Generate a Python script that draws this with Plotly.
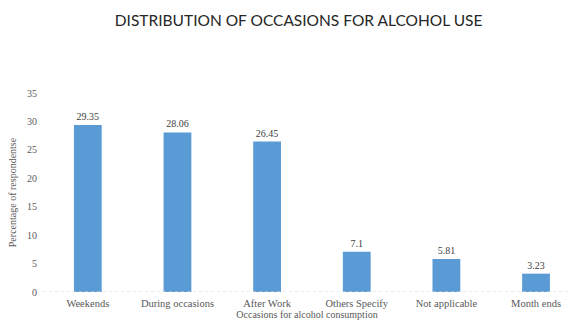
import plotly.graph_objects as go

categories = ["Weekends", "During occasions", "After Work", "Others Specify", "Not applicable", "Month ends"]
values = [29.35, 28.06, 26.45, 7.1, 5.81, 3.23]
labels = ["29.35", "28.06", "26.45", "7.1", "5.81", "3.23"]
y_ticks = [0, 5, 10, 15, 20, 25, 30, 35]

serif = "Liberation Serif, Times New Roman, serif"

fig = go.Figure(go.Bar(
    x=list(range(len(categories))), y=values,
    text=labels, textposition="outside", cliponaxis=False,
    textfont=dict(family=serif, size=10, color="#404040"),
    marker=dict(color="#5B9BD5", line=dict(width=0)),
    width=0.31,
))

fig.update_layout(
    width=571, height=322,
    margin=dict(l=43, r=0, t=93, b=30),
    paper_bgcolor="white", plot_bgcolor="white",
    showlegend=False,
    title=dict(text="DISTRIBUTION OF OCCASIONS FOR ALCOHOL USE",
               font=dict(family="Lato, Carlito, Calibri, sans-serif", size=15.5, color="#262626"),
               x=0.523, xanchor="center", y=0.935, yanchor="middle"),
    xaxis=dict(
        tickmode="array", tickvals=list(range(len(categories))), ticktext=categories,
        range=[-0.5, 5.39], showgrid=False, zeroline=False,
        showline=False, ticks="", ticklabelstandoff=3,
        tickfont=dict(family=serif, size=10.5, color="#595959"),
        title=dict(text="Occasions for alcohol consumption",
                   font=dict(family=serif, size=10, color="#595959"), standoff=3),
    ),
    yaxis=dict(
        range=[0, 35], tickvals=y_ticks, showgrid=False, zeroline=False,
        showline=False, ticks="", ticklabelstandoff=5,
        tickfont=dict(family=serif, size=10, color="#595959"),
        title=dict(text="Percentage of respondentse",
                   font=dict(family=serif, size=10, color="#595959"), standoff=8),
    ),
    shapes=[dict(type="line", xref="paper", yref="y", x0=0, x1=1, y0=0, y1=0,
                 line=dict(color="#D9D9D9", width=1, dash="dot"))],
)

fig.write_html("out.html", config={"displayModeBar": False},
               post_script="document.body.style.margin='0';document.body.style.overflow='hidden';")
